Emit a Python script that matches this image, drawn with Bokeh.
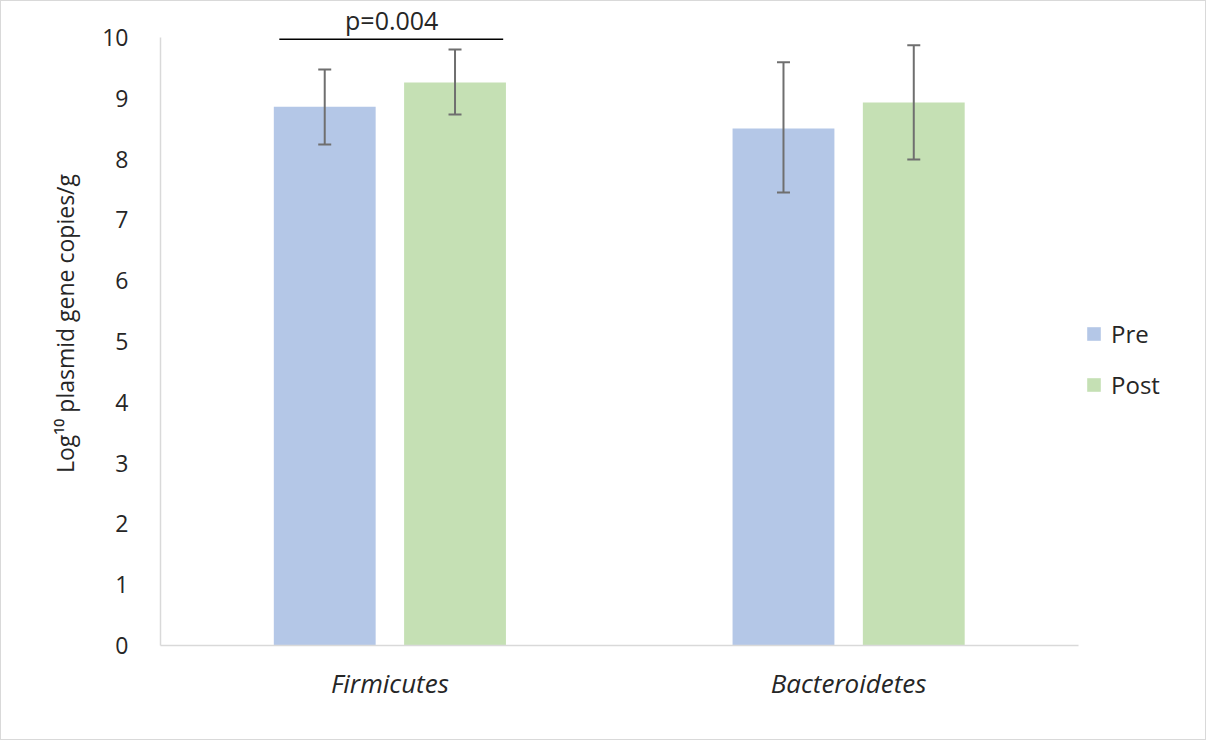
from bokeh.plotting import figure
from bokeh.models import ColumnDataSource, Whisker, Legend, LegendItem, Range1d, FixedTicker
from bokeh.embed import file_html
from bokeh.resources import INLINE
from bokeh.core.properties import value

categories = ["Firmicutes", "Bacteroidetes"]
series = ["Pre", "Post"]
pre_mean = [8.86, 8.50]
pre_lower = [8.24, 7.45]
pre_upper = [9.47, 9.59]
post_mean = [9.26, 8.93]
post_lower = [8.73, 7.99]
post_upper = [9.80, 9.87]
y_ticks = [0, 1, 2, 3, 4, 5, 6, 7, 8, 9, 10]
p_label = "p=0.004"
p_line_y = [9.97]
p_text_y = [10.29]

FONT = "Open Sans"
PRE_COLOR = "#b4c7e7"
POST_COLOR = "#c5e0b4"
TXT = "#262626"

# category slots: each category occupies one unit on the x scale
centers = [i + 0.5 for i in range(len(categories))]
off = 0.142
bw = 0.222
src = ColumnDataSource(dict(
    xc=centers,
    xpre=[c - off for c in centers], xpost=[c + off for c in centers],
    pre=pre_mean, pre_lo=pre_lower, pre_hi=pre_upper,
    post=post_mean, post_lo=post_lower, post_hi=post_upper))

n = len(categories)
p = figure(x_range=Range1d(0, n * 1.1346), y_range=Range1d(0, 10.59),
           width=1206, height=740, output_backend="svg", toolbar_location=None,
           min_border_left=159, min_border_right=6, min_border_top=0, min_border_bottom=96)
p.outline_line_color = None
p.background_fill_color = "white"
p.border_fill_color = "white"
p.xgrid.grid_line_color = None
p.ygrid.grid_line_color = None
p.styles = {"border": "1px solid #d9d9d9", "box-sizing": "border-box"}

r_pre = p.vbar(x="xpre", top="pre", width=bw, source=src, fill_color=PRE_COLOR, line_color=None)
r_post = p.vbar(x="xpost", top="post", width=bw, source=src, fill_color=POST_COLOR, line_color=None)

for col in ("pre", "post"):
    w = Whisker(base="x" + col, lower=col + "_lo", upper=col + "_hi",
                source=src, line_color="#6f6f6f", line_width=2, level="overlay")
    for h in (w.upper_head, w.lower_head):
        h.size = 13
        h.line_color = "#6f6f6f"
        h.line_width = 2
    p.add_layout(w)

# significance bracket over the first category
bsrc = ColumnDataSource(dict(x0=[centers[0] - 0.241], x1=[centers[0] + 0.247], xt=[centers[0] + 0.004],
                             y=p_line_y, ty=p_text_y, t=[p_label]))
p.segment(x0="x0", x1="x1", y0="y", y1="y", source=bsrc, line_color="black", line_width=1.5)
p.text(x="xt", y="ty", text="t", source=bsrc,
       text_font=value(FONT), text_font_size="25px", text_align="center",
       text_baseline="middle", text_color=TXT)

# axes
p.yaxis.ticker = y_ticks
p.yaxis.bounds = (0, 10)
p.yaxis.axis_line_color = "#d9d9d9"
p.yaxis.axis_line_width = 1.5
p.yaxis.major_tick_line_color = None
p.yaxis.minor_tick_line_color = None
p.yaxis.major_label_text_font = FONT
p.yaxis.major_label_text_font_size = "23px"
p.yaxis.major_label_text_color = TXT
p.yaxis.major_label_standoff = 26
p.yaxis.axis_label = "Log\u00b9\u2070 plasmid gene copies/g"
p.yaxis.axis_label_text_font = FONT
p.yaxis.axis_label_text_font_style = "normal"
p.yaxis.axis_label_text_font_size = "23px"
p.yaxis.axis_label_text_color = TXT
p.yaxis.axis_label_standoff = 18

p.xaxis.ticker = FixedTicker(ticks=centers)
p.xaxis.major_label_overrides = {c: cat for c, cat in zip(centers, categories)}
p.xaxis.bounds = (0, n)
p.xaxis.axis_line_color = "#d9d9d9"
p.xaxis.axis_line_width = 1.5
p.xaxis.major_tick_line_color = None
p.xaxis.minor_tick_line_color = None
p.xaxis.major_label_text_font = FONT
p.xaxis.major_label_text_font_style = "italic"
p.xaxis.major_label_text_font_size = "26px"
p.xaxis.major_label_text_color = TXT
p.xaxis.major_label_standoff = 13

legend = Legend(items=[LegendItem(label=series[0], renderers=[r_pre]),
                       LegendItem(label=series[1], renderers=[r_post])],
                location=(925, 244), orientation="vertical",
                label_text_font=FONT, label_text_font_size="24px", label_text_color=TXT,
                glyph_width=17, glyph_height=17, label_standoff=9, spacing=18,
                padding=10, margin=0, border_line_color=None, background_fill_alpha=0)
p.add_layout(legend, "center")

open("out.html", "w").write(file_html(p, INLINE))
